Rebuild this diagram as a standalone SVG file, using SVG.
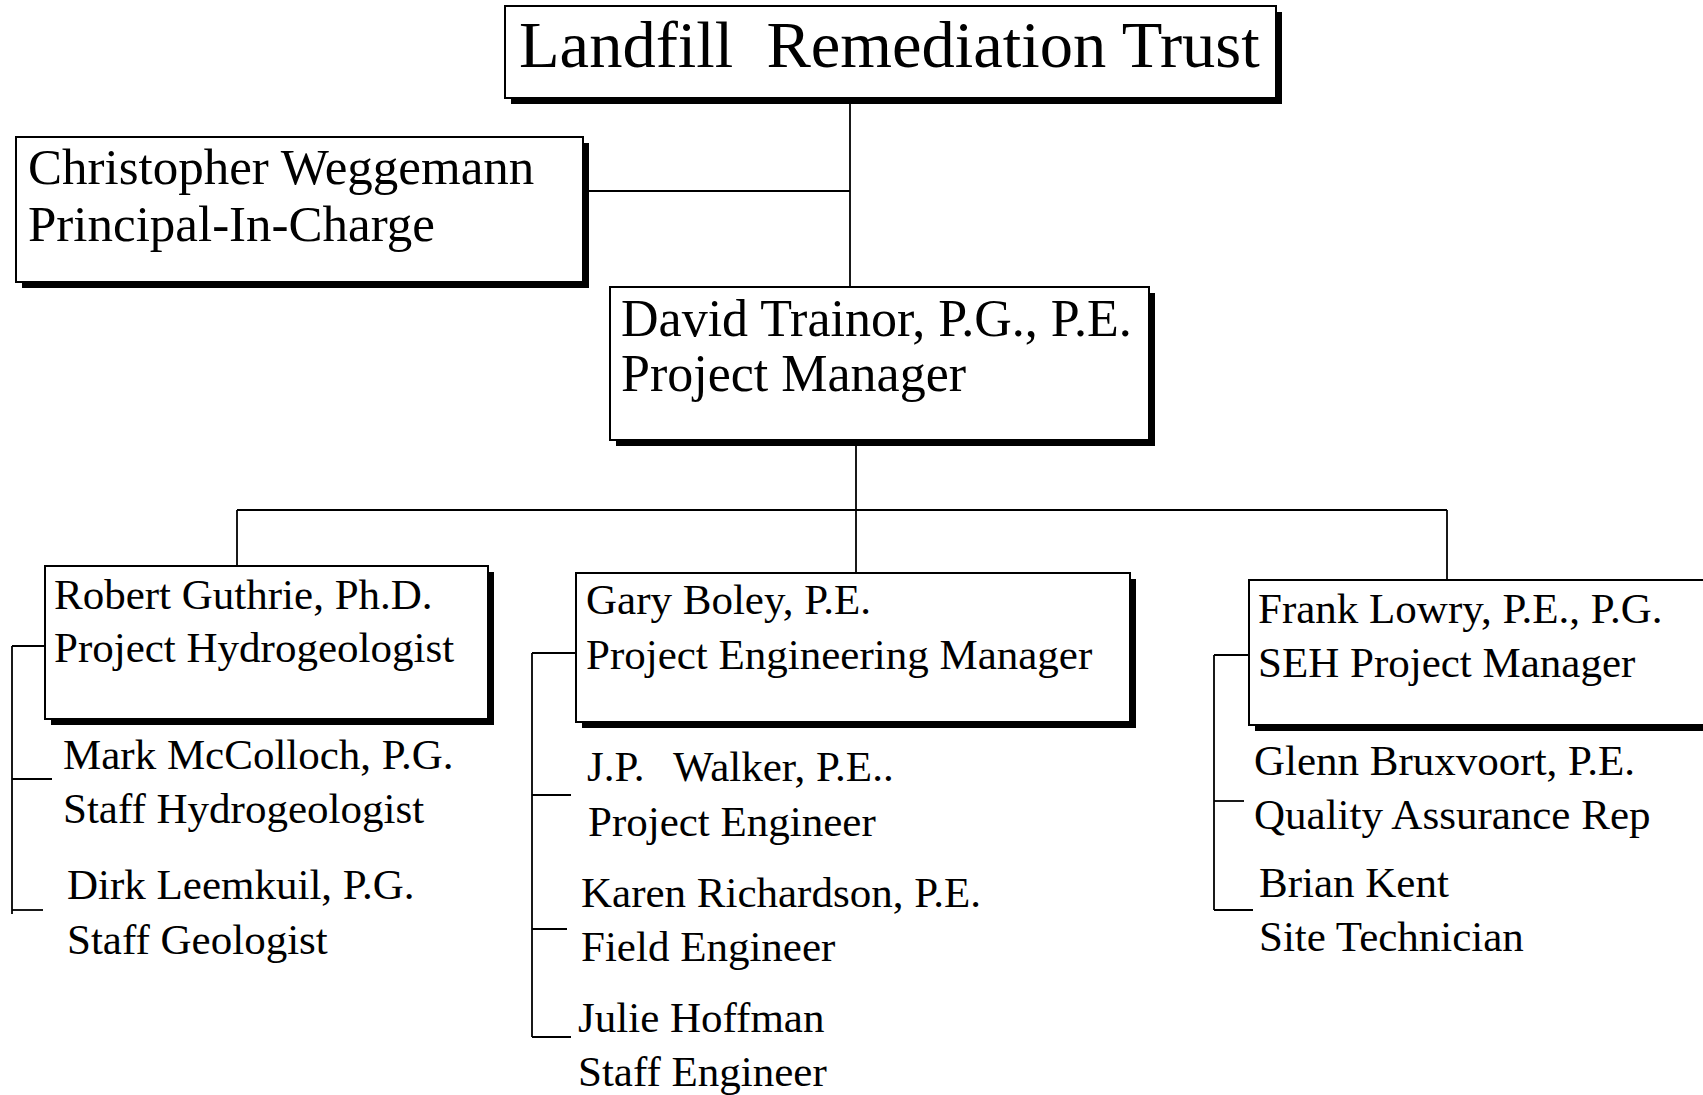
<svg xmlns="http://www.w3.org/2000/svg" width="1703" height="1095" viewBox="0 0 1703 1095">
<style>
.bg{fill:#fff}
.box{fill:#fff;stroke:#000;stroke-width:2}
.sh{fill:#000}
.t{font-family:"Liberation Serif","Times New Roman",serif;fill:#000}
.xl{font-size:66.5px}
.l{font-size:51px}
.l2{font-size:52px}
.m{font-size:43px}
#connectors line{stroke:#000;stroke-width:1.8}
</style>
<rect class="bg" x="0" y="0" width="1703" height="1095"/>
<g id="connectors">
<line x1="850" y1="98" x2="850" y2="287"/>
<line x1="589" y1="191" x2="850" y2="191"/>
<line x1="856" y1="440" x2="856" y2="510"/>
<line x1="237" y1="510" x2="1447" y2="510"/>
<line x1="237" y1="510" x2="237" y2="566"/>
<line x1="856" y1="510" x2="856" y2="573"/>
<line x1="1447" y1="510" x2="1447" y2="580"/>
<line x1="12" y1="646" x2="12" y2="914"/>
<line x1="12" y1="646" x2="45" y2="646"/>
<line x1="12" y1="779" x2="52" y2="779"/>
<line x1="12" y1="910" x2="43" y2="910"/>
<line x1="532" y1="653" x2="532" y2="1037"/>
<line x1="532" y1="653" x2="576" y2="653"/>
<line x1="532" y1="795" x2="571" y2="795"/>
<line x1="532" y1="929" x2="567" y2="929"/>
<line x1="532" y1="1037" x2="571" y2="1037"/>
<line x1="1214" y1="655" x2="1214" y2="910"/>
<line x1="1214" y1="655" x2="1249" y2="655"/>
<line x1="1214" y1="801" x2="1244" y2="801"/>
<line x1="1214" y1="910" x2="1253" y2="910"/>
</g>
<g id="trust">
<rect class="sh" x="511" y="12" width="771" height="92"/>
<rect class="box" x="505" y="6" width="771" height="92"/>
<text class="t xl" x="519" y="67" xml:space="preserve">Landfill  Remediation Trust</text>
</g>
<g id="weggemann">
<rect class="sh" x="22" y="143" width="567" height="145"/>
<rect class="box" x="16" y="137" width="567" height="145"/>
<text class="t l" x="28" y="184">Christopher Weggemann</text>
<text class="t l" x="28" y="241">Principal-In-Charge</text>
</g>
<g id="trainor">
<rect class="sh" x="616" y="293" width="539" height="153"/>
<rect class="box" x="610" y="287" width="539" height="153"/>
<text class="t l2" x="621" y="336">David Trainor, P.G., P.E.</text>
<text class="t l2" x="621" y="391">Project Manager</text>
</g>
<g id="guthrie">
<rect class="sh" x="51" y="572" width="443" height="153"/>
<rect class="box" x="45" y="566" width="443" height="153"/>
<text class="t m" x="54" y="609">Robert Guthrie, Ph.D.</text>
<text class="t m" x="54" y="662">Project Hydrogeologist</text>
</g>
<g id="mccolloch">
<text class="t m" x="63" y="769">Mark McColloch, P.G.</text>
<text class="t m" x="63" y="823">Staff Hydrogeologist</text>
</g>
<g id="leemkuil">
<text class="t m" x="67" y="899">Dirk Leemkuil, P.G.</text>
<text class="t m" x="67" y="954">Staff Geologist</text>
</g>
<g id="boley">
<rect class="sh" x="582" y="579" width="554" height="149"/>
<rect class="box" x="576" y="573" width="554" height="149"/>
<text class="t m" x="586" y="614">Gary Boley, P.E.</text>
<text class="t m" x="586" y="669">Project Engineering Manager</text>
</g>
<g id="walker">
<text class="t m" x="587" y="781" xml:space="preserve">J.P.  <tspan dx="8">Walker, P.E..</tspan></text>
<text class="t m" x="588" y="836">Project Engineer</text>
</g>
<g id="richardson">
<text class="t m" x="581" y="907">Karen Richardson, P.E.</text>
<text class="t m" x="581" y="961">Field Engineer</text>
</g>
<g id="hoffman">
<text class="t m" x="578" y="1032">Julie Hoffman</text>
<text class="t m" x="578" y="1086">Staff Engineer</text>
</g>
<g id="lowry">
<rect class="sh" x="1255" y="586" width="470" height="145"/>
<rect class="box" x="1249" y="580" width="470" height="145"/>
<text class="t m" x="1258" y="623">Frank Lowry, P.E., P.G.</text>
<text class="t m" x="1258" y="677">SEH Project Manager</text>
</g>
<g id="bruxvoort">
<text class="t m" x="1254" y="775">Glenn Bruxvoort, P.E.</text>
<text class="t m" x="1254" y="829">Quality Assurance Rep</text>
</g>
<g id="kent">
<text class="t m" x="1259" y="897">Brian Kent</text>
<text class="t m" x="1259" y="951">Site Technician</text>
</g>
</svg>
